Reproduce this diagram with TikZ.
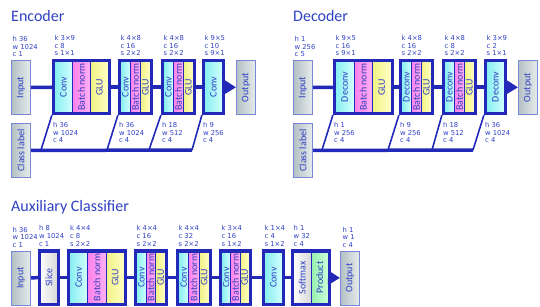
\documentclass[tikz,border=0pt]{standalone}
\usepackage{fontspec}
\setmainfont{Carlito}
\newfontfamily\datosfont{DejaVu Sans}
\usetikzlibrary{arrows.meta, positioning, fit}
\definecolor{azulmarco}{HTML}{2229B8}
\definecolor{azultexto}{HTML}{2F40C4}
\definecolor{azulclaro}{HTML}{7A86D6}
\definecolor{cianconv}{HTML}{86EEF0}
\definecolor{cianclaro}{HTML}{D4FFFF}
\definecolor{rosabn}{HTML}{FF82EC}
\definecolor{rosaclaro}{HTML}{FFB0F4}
\definecolor{amarilloglu}{HTML}{F2F286}
\definecolor{amarilloclaro}{HTML}{FFFFC4}
\definecolor{verdeprod}{HTML}{96F0AE}
\definecolor{verdeclaro}{HTML}{CCFFDA}
\definecolor{grisio}{HTML}{B4C0C4}
\definecolor{grisclaro}{HTML}{E6ECEC}
\definecolor{blancosm}{HTML}{FCFCFC}
\definecolor{grissm}{HTML}{D8D8D8}
\newcommand{\girado}[1]{\rotatebox{90}{#1}}
\tikzset{
  pieza/.style={draw=azulmarco, line width=1pt, inner sep=0pt, outer sep=0pt,
    minimum height=51pt, font=\fontsize{10}{10}\selectfont, text=azultexto},
  piezaConv/.style={pieza, minimum width=#1, left color=cianconv, right color=cianclaro},
  piezaBN/.style={pieza, minimum width=#1, left color=rosabn, right color=rosaclaro},
  piezaGLU/.style={pieza, minimum width=#1, left color=amarilloglu, right color=amarilloclaro},
  piezaBlanca/.style={pieza, minimum width=#1, left color=blancosm, right color=grissm},
  piezaProd/.style={pieza, minimum width=#1, left color=verdeprod, right color=verdeclaro},
  marco/.style={draw=azulmarco, line width=2.2pt, inner sep=1.5pt},
  caja/.style={draw=azulclaro, line width=1pt, left color=grisio, right color=grisclaro,
    inner sep=0pt, minimum width=19pt, minimum height=54pt,
    font=\fontsize{10}{10}\selectfont, text=azultexto},
  datos/.style={font=\datosfont\fontsize{6.8}{7.6}\selectfont, text=azultexto,
    align=left, inner sep=0pt},
  titulo/.style={font=\fontsize{16}{16}\selectfont, text=azultexto, inner sep=0pt,
    anchor=base west},
  enlace/.style={draw=azulmarco, line width=3.5pt},
  sesgo/.style={draw=azulmarco, line width=1.6pt},
  flecha/.style={enlace, -{Triangle[length=12pt, width=14pt]}},
}
\begin{document}
\begin{tikzpicture}[x=1pt, y=-1pt]
  \useasboundingbox (0,0) rectangle (540,307);

  % ---- Encoder ----
  \node[titulo] (tEnc) at (11,22) {Encoder};
  \node[caja, anchor=north west] (eIn) at (11,60) {\girado{Input}};
  \node[caja, anchor=north west] (eCl) at (11,123) {\girado{Class label}};
  \node[piezaConv=18pt, anchor=north west] (e1c) at (54.5,61.5) {\girado{Conv}};
  \node[piezaBN=18pt, right=0pt of e1c] (e1n) {\girado{Batch norm}};
  \node[piezaGLU=18pt, right=0pt of e1n] (e1g) {\girado{GLU}};
  \node[marco, fit=(e1c)(e1g)] (e1) {};
  \node[piezaConv=10pt, anchor=north west] (e2c) at (120.5,61.5) {\girado{Conv}};
  \node[piezaBN=10pt, right=0pt of e2c] (e2n) {\girado{Batch norm}};
  \node[piezaGLU=10pt, right=0pt of e2n] (e2g) {\girado{GLU}};
  \node[marco, fit=(e2c)(e2g)] (e2) {};
  \node[piezaConv=10pt, anchor=north west] (e3c) at (163.5,61.5) {\girado{Conv}};
  \node[piezaBN=10pt, right=0pt of e3c] (e3n) {\girado{Batch norm}};
  \node[piezaGLU=10pt, right=0pt of e3n] (e3g) {\girado{GLU}};
  \node[marco, fit=(e3c)(e3g)] (e3) {};
  \node[piezaConv=18pt, anchor=north west] (e4c) at (204.5,61.5) {\girado{Conv}};
  \node[marco, fit=(e4c)] (e4) {};
  \node[caja, anchor=north west] (eOut) at (236,60) {\girado{Output}};

  \node[datos, above right=3pt and 1.5pt of eIn.north west] (eInT) {h 36\\w 1024\\c 1};
  \node[datos, above right=3pt and 2.5pt of e1.north west] (e1T) {k 3×9\\c 8\\s 1×1};
  \node[datos, above right=3pt and 2.5pt of e2.north west] (e2T) {k 4×8\\c 16\\s 2×2};
  \node[datos, above right=3pt and 2.5pt of e3.north west] (e3T) {k 4×8\\c 16\\s 2×2};
  \node[datos, above right=3pt and 2.5pt of e4.north west] (e4T) {k 9×5\\c 10\\s 9×1};
  \node[datos, below right=7pt and 1pt of e1.south west] (e1B) {h 36\\w 1024\\c 4};
  \node[datos, below right=7pt and 1pt of e2.south west] (e2B) {h 36\\w 1024\\c 4};
  \node[datos, below right=7pt and 1pt of e3.south west] (e3B) {h 18\\w 512\\c 4};
  \node[datos, below right=7pt and 1pt of e4.south west] (e4B) {h 9\\w 256\\c 4};

  \draw[enlace] (eIn) -- (e1);
  \draw[enlace] (e1) -- (e2);
  \draw[enlace] (e2) -- (e3);
  \draw[enlace] (e3) -- (e4);
  \draw[flecha] (e4) -- (eOut);
  \coordinate (eb1) at (41,150);
  \coordinate (eb2) at (107,150);
  \coordinate (eb3) at (149,150);
  \coordinate (eb4) at (192,150);
  \draw[enlace] (eCl) -- (eb4);
  \draw[sesgo] (eb1) -- (e1.south west);
  \draw[sesgo] (eb2) -- (e2.south west);
  \draw[sesgo] (eb3) -- (e3.south west);
  \draw[sesgo] (eb4) -- (e4.south west);

  % ---- Decoder ----
  \node[titulo] (tDec) at (293,22) {Decoder};
  \node[caja, anchor=north west] (dIn) at (293,60) {\girado{Input}};
  \node[caja, anchor=north west] (dCl) at (293,123) {\girado{Class label}};
  \node[piezaConv=18.5pt, anchor=north west] (d1c) at (335.5,61.5) {\girado{Deconv}};
  \node[piezaBN=18.5pt, right=0pt of d1c] (d1n) {\girado{Batch norm}};
  \node[piezaGLU=18.5pt, right=0pt of d1n] (d1g) {\girado{GLU}};
  \node[marco, fit=(d1c)(d1g)] (d1) {};
  \node[piezaConv=10pt, anchor=north west] (d2c) at (401.5,61.5) {\girado{Deconv}};
  \node[piezaBN=10pt, right=0pt of d2c] (d2n) {\girado{Batch norm}};
  \node[piezaGLU=10pt, right=0pt of d2n] (d2g) {\girado{GLU}};
  \node[marco, fit=(d2c)(d2g)] (d2) {};
  \node[piezaConv=10pt, anchor=north west] (d3c) at (444.5,61.5) {\girado{Deconv}};
  \node[piezaBN=10pt, right=0pt of d3c] (d3n) {\girado{Batch norm}};
  \node[piezaGLU=10pt, right=0pt of d3n] (d3g) {\girado{GLU}};
  \node[marco, fit=(d3c)(d3g)] (d3) {};
  \node[piezaConv=18pt, anchor=north west] (d4c) at (486.5,61.5) {\girado{Deconv}};
  \node[marco, fit=(d4c)] (d4) {};
  \node[caja, anchor=north west] (dOut) at (518,60) {\girado{Output}};

  \node[datos, above right=3pt and 1.5pt of dIn.north west] (dInT) {h 1\\w 256\\c 5};
  \node[datos, above right=3pt and 2.5pt of d1.north west] (d1T) {k 9×5\\c 16\\s 9×1};
  \node[datos, above right=3pt and 2.5pt of d2.north west] (d2T) {k 4×8\\c 16\\s 2×2};
  \node[datos, above right=3pt and 2.5pt of d3.north west] (d3T) {k 4×8\\c 8\\s 2×2};
  \node[datos, above right=3pt and 2.5pt of d4.north west] (d4T) {k 3×9\\c 2\\s 1×1};
  \node[datos, below right=7pt and 1pt of d1.south west] (d1B) {h 1\\w 256\\c 4};
  \node[datos, below right=7pt and 1pt of d2.south west] (d2B) {h 9\\w 256\\c 4};
  \node[datos, below right=7pt and 1pt of d3.south west] (d3B) {h 18\\w 512\\c 4};
  \node[datos, below right=7pt and 1pt of d4.south west] (d4B) {h 36\\w 1024\\c 4};

  \draw[enlace] (dIn) -- (d1);
  \draw[enlace] (d1) -- (d2);
  \draw[enlace] (d2) -- (d3);
  \draw[enlace] (d3) -- (d4);
  \draw[flecha] (d4) -- (dOut);
  \coordinate (db1) at (322,150);
  \coordinate (db2) at (388,150);
  \coordinate (db3) at (432,150);
  \coordinate (db4) at (473,150);
  \draw[enlace] (dCl) -- (db4);
  \draw[sesgo] (db1) -- (d1.south west);
  \draw[sesgo] (db2) -- (d2.south west);
  \draw[sesgo] (db3) -- (d3.south west);
  \draw[sesgo] (db4) -- (d4.south west);

  % ---- Auxiliary classifier ----
  \node[titulo] (tAux) at (11,211) {Auxiliary Classifier};
  \node[caja, anchor=north west] (aIn) at (11,250.5) {\girado{Input}};
  \node[piezaBlanca=17pt, anchor=north west] (aSlp) at (40.5,252) {\girado{Slice}};
  \node[marco, fit=(aSlp)] (aSl) {};
  \node[piezaConv=18.3pt, anchor=north west] (a1c) at (69.5,252) {\girado{Conv}};
  \node[piezaBN=18.3pt, right=0pt of a1c] (a1n) {\girado{Batch norm}};
  \node[piezaGLU=18.3pt, right=0pt of a1n] (a1g) {\girado{GLU}};
  \node[marco, fit=(a1c)(a1g)] (a1) {};
  \node[piezaConv=9.7pt, anchor=north west] (a2c) at (136.5,252) {\girado{Conv}};
  \node[piezaBN=9.7pt, right=0pt of a2c] (a2n) {\girado{Batch norm}};
  \node[piezaGLU=9.7pt, right=0pt of a2n] (a2g) {\girado{GLU}};
  \node[marco, fit=(a2c)(a2g)] (a2) {};
  \node[piezaConv=10.3pt, anchor=north west] (a3c) at (178.5,252) {\girado{Conv}};
  \node[piezaBN=10.3pt, right=0pt of a3c] (a3n) {\girado{Batch norm}};
  \node[piezaGLU=10.3pt, right=0pt of a3n] (a3g) {\girado{GLU}};
  \node[marco, fit=(a3c)(a3g)] (a3) {};
  \node[piezaConv=9.3pt, anchor=north west] (a4c) at (221.5,252) {\girado{Conv}};
  \node[piezaBN=9.3pt, right=0pt of a4c] (a4n) {\girado{Batch norm}};
  \node[piezaGLU=9.3pt, right=0pt of a4n] (a4g) {\girado{GLU}};
  \node[marco, fit=(a4c)(a4g)] (a4) {};
  \node[piezaConv=18pt, anchor=north west] (a5c) at (264.5,252) {\girado{Conv}};
  \node[marco, fit=(a5c)] (a5) {};
  \node[piezaBlanca=17.5pt, anchor=north west] (aSmx) at (293.5,252) {\girado{Softmax}};
  \node[piezaProd=17.5pt, right=0pt of aSmx] (aPrd) {\girado{Product}};
  \node[marco, fit=(aSmx)(aPrd)] (aSm) {};
  \node[caja, anchor=north west] (aOut) at (340,250.5) {\girado{Output}};

  \node[datos, above right=3pt and 1.5pt of aIn.north west] (aInT) {h 36\\w 1024\\c 1};
  \node[datos, above right=3pt and 1pt of aSl.north west] (aSlT) {h 8\\w 1024\\c 1};
  \node[datos, above right=3pt and 3pt of a1.north west] (a1T) {k 4×4\\c 8\\s 2×2};
  \node[datos, above right=3pt and 2.5pt of a2.north west] (a2T) {k 4×4\\c 16\\s 2×2};
  \node[datos, above right=3pt and 2.5pt of a3.north west] (a3T) {k 4×4\\c 32\\s 2×2};
  \node[datos, above right=3pt and 2.5pt of a4.north west] (a4T) {k 3×4\\c 16\\s 1×2};
  \node[datos, above right=3pt and 2.5pt of a5.north west] (a5T) {k 1×4\\c 4\\s 1×2};
  \node[datos, above right=3pt and 2.5pt of aSm.north west] (aSmT) {h 1\\w 32\\c 4};
  \node[datos, above right=3pt and 2.5pt of aOut.north west] (aOutT) {h 1\\w 1\\c 4};

  \draw[enlace] (aIn) -- (aSl);
  \draw[enlace] (aSl) -- (a1);
  \draw[enlace] (a1) -- (a2);
  \draw[enlace] (a2) -- (a3);
  \draw[enlace] (a3) -- (a4);
  \draw[enlace] (a4) -- (a5);
  \draw[enlace] (a5) -- (aSm);
  \draw[flecha] (aSm) -- (aOut);
\end{tikzpicture}
\end{document}
